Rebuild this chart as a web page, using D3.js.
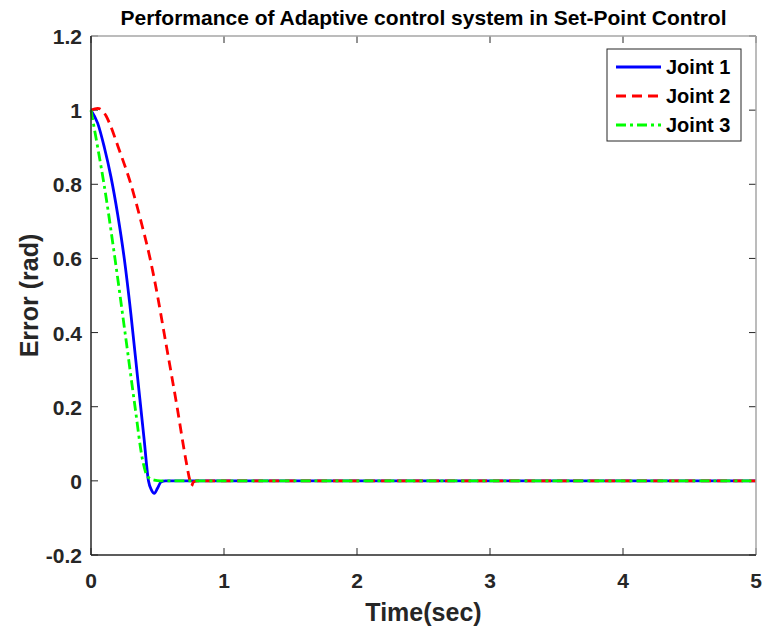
<!DOCTYPE html>
<html>
<head>
<meta charset="utf-8">
<script src="https://cdn.jsdelivr.net/npm/d3@7"></script>
<style>
  body { margin: 0; background: #fff; }
  text { font-family: "Liberation Sans", Arial, sans-serif; font-weight: bold; fill: #262626; }
</style>
</head>
<body>
<div id="chart"></div>
<script>
// values
const joint1T = [0, 0.05, 0.1, 0.15, 0.2, 0.25, 0.3, 0.35, 0.4, 0.432, 0.455, 0.476, 0.5, 0.526, 0.56, 5];
const joint1V = [1, 0.965, 0.9, 0.82, 0.72, 0.6, 0.45, 0.28, 0.11, 0, -0.025, -0.034, -0.02, -0.003, 0, 0];

const joint2T = [0, 0.05, 0.113, 0.14, 0.205, 0.3, 0.376, 0.444, 0.5, 0.549, 0.647, 0.714, 0.744, 0.755, 0.77, 0.8, 5];
const joint2V = [1, 1.005, 0.985, 0.964, 0.9, 0.8, 0.7, 0.6, 0.5, 0.4, 0.2, 0.055, 0, -0.014, -0.003, 0, 0];

const joint3T = [0, 0.05, 0.098, 0.18, 0.256, 0.331, 0.388, 0.426, 0.476, 0.52, 5];
const joint3V = [1, 0.9, 0.8, 0.6, 0.4, 0.2, 0.056, 0.011, 0.002, 0, 0];

const xTicks = [0, 1, 2, 3, 4, 5];
const yTicks = [-0.2, 0, 0.2, 0.4, 0.6, 0.8, 1, 1.2];
const yTickLabels = ["-0.2", "0", "0.2", "0.4", "0.6", "0.8", "1", "1.2"];

const seriesNames = ["Joint 1", "Joint 2", "Joint 3"];
const seriesColors = ["#0000ff", "#ff0000", "#00ff00"];
const seriesDash = [null, "10,6", "10,4,3,4"];

const series = [
    joint1T.map((t, i) => ({ t: t, v: joint1V[i] })),
    joint2T.map((t, i) => ({ t: t, v: joint2V[i] })),
    joint3T.map((t, i) => ({ t: t, v: joint3V[i] }))
];

const margin = { top: 36, right: 9, bottom: 78, left: 91 };
const width = 765 - margin.left - margin.right,
    height = 633 - margin.top - margin.bottom;

const svg = d3.select("#chart").append("svg")
    .attr("width", 765)
    .attr("height", 633);

const g = svg.append("g")
    .attr("transform", "translate(" + margin.left + "," + margin.top + ")");

// scales
const x = d3.scaleLinear().domain([0, 5]).range([0, width]);
const y = d3.scaleLinear().domain([-0.2, 1.2]).range([height, 0]);

// tick marks (inward, all four sides)
const tickLen = 7;
g.selectAll(".xtick-b").data(xTicks).enter().append("line")
    .attr("x1", d => x(d)).attr("x2", d => x(d))
    .attr("y1", height).attr("y2", height - tickLen)
    .attr("stroke", "#262626");
g.selectAll(".xtick-t").data(xTicks).enter().append("line")
    .attr("x1", d => x(d)).attr("x2", d => x(d))
    .attr("y1", 0).attr("y2", tickLen)
    .attr("stroke", "#262626");
g.selectAll(".ytick-l").data(yTicks).enter().append("line")
    .attr("x1", 0).attr("x2", tickLen)
    .attr("y1", d => y(d)).attr("y2", d => y(d))
    .attr("stroke", "#262626");
g.selectAll(".ytick-r").data(yTicks).enter().append("line")
    .attr("x1", width).attr("x2", width - tickLen)
    .attr("y1", d => y(d)).attr("y2", d => y(d))
    .attr("stroke", "#262626");

// tick labels
g.selectAll(".xlab").data(xTicks).enter().append("text")
    .attr("x", d => x(d))
    .attr("y", height + 33)
    .attr("text-anchor", "middle")
    .style("font-size", "21px")
    .text(d => d);
g.selectAll(".ylab").data(yTicks).enter().append("text")
    .attr("x", -9)
    .attr("y", d => y(d) + 8)
    .attr("text-anchor", "end")
    .style("font-size", "21px")
    .text((d, i) => yTickLabels[i]);

// lines
const line = d3.line()
    .x(d => x(d.t))
    .y(d => y(d.v))
    .curve(d3.curveMonotoneX);

series.forEach((s, i) => {
    g.append("path")
        .datum(s)
        .attr("fill", "none")
        .attr("stroke", seriesColors[i])
        .attr("stroke-width", 2.8)
        .attr("stroke-dasharray", seriesDash[i])
        .attr("d", line);
});

// box: dark left/bottom, light top/right
g.append("line").attr("x1", 0).attr("x2", width).attr("y1", 0).attr("y2", 0)
    .attr("stroke", "#a6a6a6").attr("stroke-width", 1.5);
g.append("line").attr("x1", width).attr("x2", width).attr("y1", 0).attr("y2", height)
    .attr("stroke", "#a6a6a6").attr("stroke-width", 1.5);
g.append("line").attr("x1", 0).attr("x2", width).attr("y1", height).attr("y2", height)
    .attr("stroke", "#262626").attr("stroke-width", 1.5);
g.append("line").attr("x1", 0).attr("x2", 0).attr("y1", 0).attr("y2", height)
    .attr("stroke", "#262626").attr("stroke-width", 1.5);

// legend
const legend = g.append("g")
    .attr("transform", "translate(" + (x(4) - 16) + "," + 13 + ")");
legend.append("rect")
    .attr("width", 134).attr("height", 92)
    .attr("fill", "#fff")
    .attr("stroke", "#262626")
    .attr("stroke-width", 1);
seriesNames.forEach((name, i) => {
    const ly = 18 + i * 29;
    legend.append("line")
        .attr("x1", 9).attr("x2", 54)
        .attr("y1", ly).attr("y2", ly)
        .attr("stroke", seriesColors[i])
        .attr("stroke-width", 2.8)
        .attr("stroke-dasharray", seriesDash[i]);
    legend.append("text")
        .attr("x", 59).attr("y", ly + 7)
        .style("font-size", "20px")
        .style("fill", "#000")
        .text(name);
});

// title and axis titles
svg.append("text")
    .attr("x", margin.left + width / 2)
    .attr("y", 25)
    .attr("text-anchor", "middle")
    .style("font-size", "21px")
    .style("fill", "#000")
    .text("Performance of Adaptive control system in Set-Point Control");

svg.append("text")
    .attr("x", margin.left + width / 2)
    .attr("y", 621)
    .attr("text-anchor", "middle")
    .style("font-size", "25px")
    .text("Time(sec)");

svg.append("text")
    .attr("transform", "translate(38," + (margin.top + height / 2) + ") rotate(-90)")
    .attr("text-anchor", "middle")
    .style("font-size", "25px")
    .text("Error (rad)");
</script>
</body>
</html>
